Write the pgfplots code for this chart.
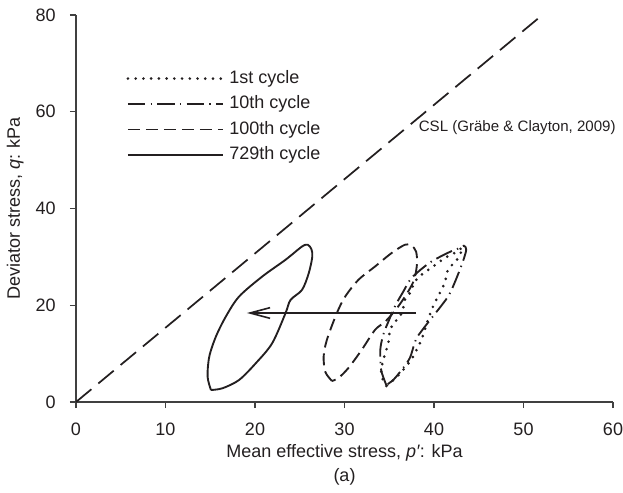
\documentclass[border=0pt]{standalone}
\usepackage{pgfplots}
\pgfplotsset{compat=1.18}
\usepackage{fontspec}
\setmainfont{Liberation Sans}
\usetikzlibrary{arrows.meta}
\definecolor{ink}{RGB}{35,31,32}

\begin{document}
\begin{tikzpicture}
\begin{axis}[
  scale only axis,
  width=402.75pt, height=290.25pt,
  xmin=0, xmax=60, ymin=0, ymax=80,
  axis lines=left,
  axis line style={-, draw=black!75, line width=0.8pt},
  xtick={0,10,...,60}, ytick={0,20,...,80},
  tick align=outside,
  major tick length=4.5pt,
  tick style={draw=black!75, line width=0.8pt},
  /pgf/number format/assume math mode=true,
  ticklabel style={font=\fontsize{13.5}{15}\selectfont, text=ink},
  xticklabel style={anchor=north, inner sep=0pt, yshift=-11pt},
  yticklabel style={anchor=east, inner sep=0pt, xshift=-10.5pt},
  xlabel={Mean effective stress, \textit{p′}: kPa},
  ylabel={Deviator stress, \textit{q}: kPa},
  label style={font=\fontsize{13.5}{16}\selectfont, text=ink},
  xlabel style={at={(axis description cs:0.5,-0.1318)}, anchor=center},
  ylabel style={at={(axis description cs:-0.113,0.5)}, anchor=center},
  legend style={draw=none, fill=none,
    at={(axis description cs:0.0935,0.864)}, anchor=north west,
    font=\fontsize{13.5}{16}\selectfont, text=ink,
    inner sep=0pt, row sep=3.1pt,
    nodes={inner sep=1.5pt, text height=10pt, text depth=3pt}},
  legend cell align=left,
  legend image code/.code={\draw[#1] (0pt,0pt) -- (71pt,0pt);
    \path (73.5pt,0pt);},
  clip=false,
]
% critical state line
\addplot[ink, line width=1.3pt, dash pattern=on 15pt off 6.75pt, forget plot]
  coordinates {(0,0) (52.1,80)};

% 1st cycle
\addplot[ink, line width=2.2pt, line cap=round, dash pattern=on 0pt off 5.8pt, smooth, tension=0.5]
  coordinates {
  (34.67,3.3) (34.2,5.0) (34.1,6.6) (34.33,8.7) (34.89,12.15) (35.08,14.9)
  (35.6,16.5) (36.19,17.66) (36.56,19.4) (36.74,21.1) (37.3,22.5) (37.86,24.9)
  (38.59,26.3) (39.89,28.0) (41.19,29.75) (42.4,30.9) (43.2,31.9)
  (42.6,29.5) (41.56,27.33) (41.19,24.58) (40.44,21.8) (39.89,19.73)
  (39.33,16.98) (38.97,14.91) (38.59,12.84) (38.22,11.45) (37.67,9.38)
  (36.9,7.4) (36.0,5.5) (35.26,4.2) (34.67,3.3)};
\addlegendentry{1st cycle}

% 10th cycle
\addplot[ink, line width=1.4pt, dash pattern=on 13pt off 4pt on 1pt off 4pt, smooth, tension=0.5]
  coordinates {
  (34.67,3.52) (34.1,6.6) (34.0,10.8) (34.33,13.9) (34.89,16.56) (35.67,19.9)
  (36.56,22.8) (37.33,25.26) (38.22,26.9) (39.67,28.99) (41.56,30.85)
  (42.67,31.7) (43.33,32.3) (43.6,31.5) (43.22,28.99) (42.44,25.26)
  (41.7,22.2) (40.9,20.1) (39.75,17.4) (38.7,14.9) (37.96,12.84) (37.3,9.1)
  (36.37,6.6) (35.44,4.55) (34.67,3.52)};
\addlegendentry{10th cycle}

% 100th cycle
\addplot[ink, line width=1.4pt, dash pattern=on 9pt off 4.5pt, smooth, tension=0.5]
  coordinates {
  (28.6,4.35) (27.86,6.2) (27.67,9.38) (28.03,12.84) (29.14,18.36) (30.08,21.80)
  (31.56,25.26) (33.41,28.01) (35.26,30.79) (36.74,32.5) (37.48,32.4)
  (38.0,31.06) (38.1,28.57) (37.78,25.26) (37.0,22.5) (35.9,19.5) (34.6,16.7)
  (33.41,14.91) (31.92,10.77) (30.44,7.04) (29.33,4.97) (28.6,4.35)};
\addlegendentry{100th cycle}

% 729th cycle
\addplot[ink, line width=1.4pt, smooth, tension=0.5]
  coordinates {
  (15.08,2.48) (14.70,5.24) (14.89,9.38) (15.63,13.52) (16.74,17.66)
  (18.22,21.80) (20.81,25.94) (23.41,29.40) (25.26,32.15) (25.9,32.5)
  (26.3,31.6) (26.4,30.0) (26.0,26.6) (25.26,23.19) (23.97,21.1)
  (23.41,18.36) (21.92,12.15) (20.08,8.0) (18.22,4.55) (16.37,2.84) (15.08,2.48)};
\addlegendentry{729th cycle}

% shift of the stress path with cycling
\addplot[ink, line width=1.4pt, -{Straight Barb[length=15pt, width=8pt, line width=1.2pt]}, forget plot]
  coordinates {(38.0,18.4) (19.1,18.4)};

\node[font=\fontsize{11.3}{13}\selectfont, text=ink] at (axis cs:49.3,56.7)
  {CSL (Gräbe \& Clayton, 2009)};
\node[font=\fontsize{13.5}{16}\selectfont, text=ink] at (axis description cs:0.5,-0.1938) {(a)};

\coordinate (bl) at (rel axis cs:0,0);
\coordinate (tr) at (rel axis cs:1,1);
\end{axis}
\pgfresetboundingbox
\path ([shift={(-57pt,-67.5pt)}]bl) rectangle ([shift={(7.5pt,11.25pt)}]tr);
\end{tikzpicture}
\end{document}
